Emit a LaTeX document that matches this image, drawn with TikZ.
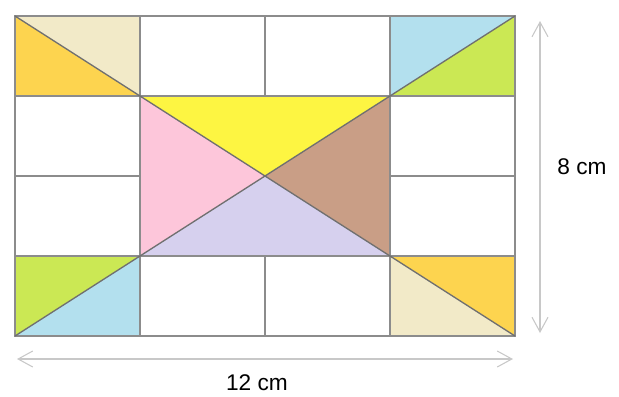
\documentclass[tikz,border=0pt]{standalone}
\usepackage{fontspec}
\setmainfont{Liberation Sans}
\usetikzlibrary{arrows.meta}
\definecolor{tileorange}{RGB}{253,212,79}
\definecolor{tilebeige}{RGB}{242,234,200}
\definecolor{tileblue}{RGB}{179,224,238}
\definecolor{tilegreen}{RGB}{203,232,84}
\definecolor{tileyellow}{RGB}{253,245,66}
\definecolor{tilepink}{RGB}{253,198,218}
\definecolor{tilebrown}{RGB}{201,158,134}
\definecolor{tilelilac}{RGB}{214,208,238}
\definecolor{gridgray}{RGB}{140,140,140}
\definecolor{dimgray}{RGB}{200,200,200}

\begin{document}
\begin{tikzpicture}[
  x=0.75pt, y=-0.75pt,
  gridline/.style={draw=gridgray, line width=1.5pt},
  diagline/.style={draw=gridgray!80!black, line width=1pt},
  dimarrow/.style={draw=dimgray, line width=0.8pt,
                   {Straight Barb[length=11pt, width=12pt]}-{Straight Barb[length=11pt, width=12pt]}},
  dimlabel/.style={font=\fontsize{17}{20}\selectfont, text=black}
]
\useasboundingbox (0,0) rectangle (619,397);

% corners of the big rectangle
\coordinate (nw) at (15,16);
\coordinate (ne) at (515,16);
\coordinate (sw) at (15,336);
\coordinate (se) at (515,336);
\coordinate (mid) at (265,176);

% corner tiles
\fill[tileorange] (15,16) -- (140,96) -- (15,96) -- cycle;
\fill[tilebeige]  (15,16) -- (140,16) -- (140,96) -- cycle;
\fill[tileblue]   (390,16) -- (515,16) -- (390,96) -- cycle;
\fill[tilegreen]  (515,16) -- (515,96) -- (390,96) -- cycle;
\fill[tilegreen]  (15,256) -- (140,256) -- (15,336) -- cycle;
\fill[tileblue]   (140,256) -- (140,336) -- (15,336) -- cycle;
\fill[tileorange] (390,256) -- (515,256) -- (515,336) -- cycle;
\fill[tilebeige]  (390,256) -- (515,336) -- (390,336) -- cycle;

% middle rectangle
\fill[tileyellow] (140,96) -- (390,96) -- (mid) -- cycle;
\fill[tilebrown]  (390,96) -- (390,256) -- (mid) -- cycle;
\fill[tilelilac]  (390,256) -- (140,256) -- (mid) -- cycle;
\fill[tilepink]   (140,256) -- (140,96) -- (mid) -- cycle;

% grid
\draw[gridline] (nw) rectangle (se);
\draw[gridline] (15,96) -- (515,96);
\draw[gridline] (15,256) -- (515,256);
\draw[gridline] (15,176) -- (140,176);
\draw[gridline] (390,176) -- (515,176);
\draw[gridline] (140,16) -- (140,336);
\draw[gridline] (390,16) -- (390,336);
\draw[gridline] (265,16) -- (265,96);
\draw[gridline] (265,256) -- (265,336);

% diagonals
\draw[diagline] (nw) -- (se);
\draw[diagline] (sw) -- (ne);

% dimensions
\coordinate (vtop) at (540,21);
\coordinate (vbot) at (540,333);
\coordinate (hleft) at (17,359);
\coordinate (hright) at (513,359);
\draw[dimarrow] (vtop) -- (vbot);
\draw[dimarrow] (hleft) -- (hright);
\node[dimlabel] (height) at (582,167) {8 cm};
\node[dimlabel] (width) at (257,383) {12 cm};

\end{tikzpicture}
\end{document}
